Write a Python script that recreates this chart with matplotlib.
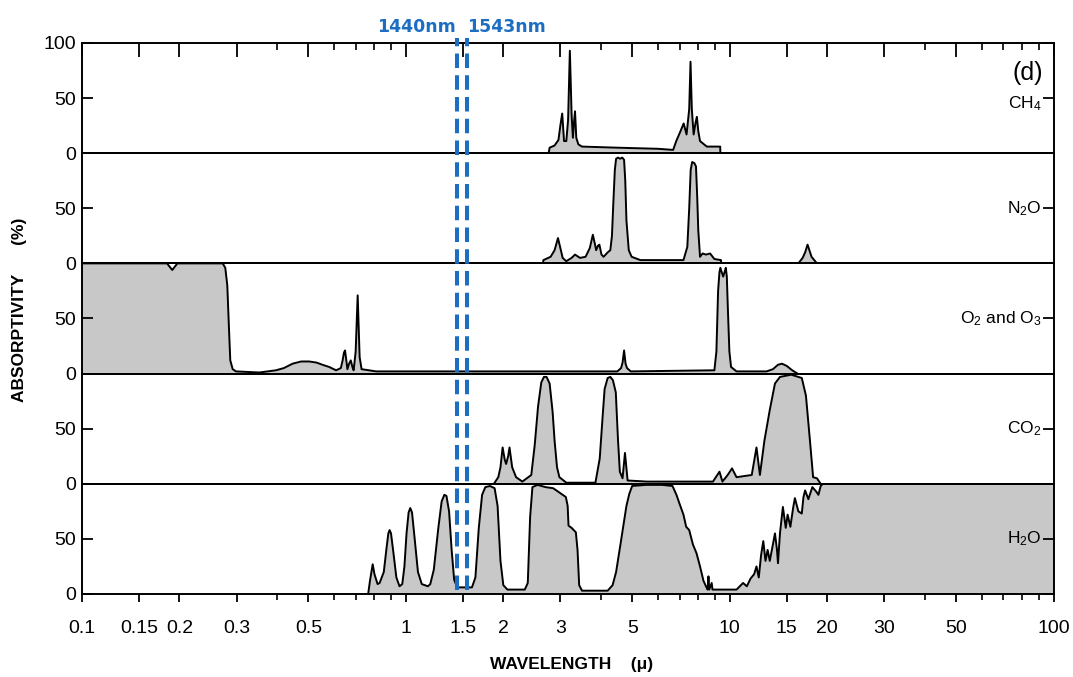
import matplotlib
matplotlib.use('Agg')
import matplotlib.pyplot as plt

plt.rcParams['font.family'] = ['Liberation Sans', 'DejaVu Sans']
plt.rcParams['mathtext.fontset'] = 'custom'
plt.rcParams['mathtext.rm'] = 'Liberation Sans'
plt.rcParams['mathtext.it'] = 'Liberation Sans:italic'
plt.rcParams['mathtext.bf'] = 'Liberation Sans:bold'

# ---------------- data (wavelength in micron, absorptivity in %) ----------------
ch4_wl = [2.76, 2.78, 2.88, 2.96, 3.00, 3.04, 3.08, 3.13, 3.17, 3.21, 3.25, 3.28, 3.31,
          3.33, 3.36, 3.41, 3.5, 4.5, 6.0, 6.69, 6.84, 7.05, 7.21, 7.36, 7.50, 7.57,
          7.64, 7.74, 7.85, 7.92, 8.0, 8.1, 8.5, 9.35, 9.36]
ch4_ab = [0, 5, 7, 12, 25, 36, 11, 11, 30, 93, 35, 14, 30,
          38, 14, 8, 6, 5, 4, 3, 11, 20, 27, 17, 40, 83,
          40, 17, 28, 33, 20, 11, 6, 6, 0]

n2o_wl = [2.65, 2.66, 2.80, 2.88, 2.95, 3.0, 3.05, 3.13, 3.25, 3.33, 3.45, 3.59, 3.70, 3.78,
          3.84, 3.87, 3.92, 3.96, 4.02, 4.08, 4.20, 4.28, 4.33, 4.37, 4.42, 4.46, 4.52, 4.59,
          4.66, 4.72, 4.76, 4.80, 4.88, 4.98, 5.3, 7.2, 7.4, 7.5, 7.58, 7.66, 7.78, 7.87,
          7.94, 8.0, 8.1, 8.25, 8.45, 8.7, 8.97, 9.4, 9.42,
          16.3, 16.8, 17.1, 17.4, 17.9, 18.6]
n2o_ab = [0, 3, 6, 12, 23, 14, 5, 2, 5, 8, 5, 6, 14, 26,
          17, 12, 16, 17, 8, 6, 10, 12, 25, 53, 85, 95, 96, 95,
          96, 94, 75, 39, 12, 6, 3, 3, 15, 50, 85, 92, 91, 88,
          60, 30, 6, 9, 8, 9, 4, 3, 0,
          0, 5, 10, 17, 6, 0]

o3_wl = [0.1, 0.183, 0.19, 0.197, 0.272, 0.277, 0.281, 0.284, 0.287, 0.292, 0.299, 0.353,
         0.397, 0.42, 0.447, 0.475, 0.503, 0.53, 0.553, 0.58, 0.609, 0.63, 0.638, 0.644,
         0.649, 0.655, 0.66, 0.668, 0.676, 0.684, 0.69, 0.70, 0.71, 0.72, 0.73, 0.81,
         4.5, 4.62, 4.67, 4.72, 4.77, 4.82, 4.95, 8.97, 9.1, 9.21, 9.3, 9.36, 9.45, 9.55,
         9.64, 9.73, 9.8, 9.87, 9.98, 10.1, 10.5, 13.0, 13.6, 14.1, 14.5, 15.0, 15.6, 16.2]
o3_ab = [100, 100, 94, 100, 100, 96, 80, 45, 12, 4, 2, 1,
         3, 5, 9, 11, 11, 10, 8, 6, 3, 5, 12, 19,
         21, 12, 4, 9, 12, 6, 3, 20, 71, 15, 4, 2,
         2, 5, 10, 21, 9, 5, 2, 3, 20, 75, 92, 96, 92, 88,
         92, 96, 88, 60, 20, 6, 2, 2, 4, 8, 9, 7, 3, 0]

co2_wl = [1.87, 1.93, 1.96, 1.99, 2.02, 2.04, 2.07, 2.09, 2.13, 2.19, 2.29, 2.44, 2.50,
          2.56, 2.62, 2.67, 2.72, 2.78, 2.84, 2.88, 2.93, 2.98, 3.13, 3.85, 3.97, 4.05,
          4.11, 4.2, 4.28, 4.36, 4.45, 4.52, 4.58, 4.67, 4.75, 4.84, 5.56, 8.88,
          9.3, 9.5, 9.86, 10.17, 10.5, 11.7, 12.1, 12.4, 12.8, 13.3, 13.8, 14.3, 15.5,
          16.7, 17.2, 17.7, 18.1, 18.6, 19.1]
co2_ab = [0, 6, 15, 33, 22, 18, 25, 33, 15, 6, 2, 8, 35,
          70, 92, 97, 97, 91, 65, 39, 15, 6, 1, 1, 23, 60,
          86, 96, 97, 94, 83, 40, 11, 5, 28, 3, 2, 2,
          11, 2, 8, 14, 6, 8, 33, 8, 39, 67, 91, 97, 99,
          96, 80, 39, 6, 5, 0]

h2o_wl = [0.765, 0.775, 0.79, 0.80, 0.818, 0.83, 0.855, 0.872, 0.883, 0.891, 0.90, 0.915,
          0.935, 0.956, 0.975, 0.99, 1.005, 1.02, 1.032, 1.045, 1.065, 1.09, 1.12, 1.17,
          1.19, 1.22, 1.26, 1.29, 1.315, 1.335, 1.36, 1.385, 1.41, 1.44,
          1.60, 1.64, 1.68, 1.72, 1.76, 1.82, 1.88, 1.92, 1.96, 2.00, 2.06, 2.33,
          2.38, 2.42, 2.46, 2.55, 2.7, 2.85, 2.95, 3.05, 3.12, 3.16, 3.18, 3.25, 3.35,
          3.39, 3.43, 3.5, 4.2, 4.35, 4.46, 4.6, 4.8, 4.9, 5.0, 5.5, 6.2, 6.66, 6.85,
          7.0, 7.2, 7.34, 7.5, 7.7, 7.9, 8.1, 8.3, 8.45, 8.55, 8.6, 8.65, 8.8, 8.85,
          9.5, 10.5, 11.0, 11.3, 11.6, 11.9, 12.1, 12.3, 12.5, 12.7, 12.9, 13.1, 13.3,
          13.6, 13.8, 14.0, 14.1, 14.3, 14.6, 14.9, 15.1, 15.4, 15.7, 15.9, 16.3, 16.7,
          16.9, 17.1, 17.5, 18.0, 18.5, 18.8, 19.1, 19.4, 100]
h2o_ab = [0, 12, 27, 18, 9, 10, 20, 42, 55, 58, 55, 38,
          15, 7, 9, 25, 55, 74, 78, 74, 50, 20, 9, 7,
          9, 22, 60, 84, 90, 89, 75, 40, 13, 6,
          6, 15, 60, 90, 97, 98, 96, 80, 30, 8, 4, 4,
          10, 70, 97, 99, 97, 96, 93, 90, 88, 80, 62, 60, 56,
          40, 8, 3, 3, 8, 20, 45, 80, 91, 98, 99, 99, 98, 90,
          82, 72, 61, 58, 45, 37, 25, 12, 7, 4, 16, 4, 10, 4,
          4, 4, 10, 7, 14, 18, 25, 15, 35, 48, 30, 40, 30,
          45, 55, 40, 28, 55, 79, 60, 72, 61, 78, 87, 75, 73,
          88, 94, 86, 97, 93, 90, 98, 100, 100]

gas_labels = ['CH$_4$', 'N$_2$O', 'O$_2$ and O$_3$', 'CO$_2$', 'H$_2$O']
gas_wl = [ch4_wl, n2o_wl, o3_wl, co2_wl, h2o_wl]
gas_ab = [ch4_ab, n2o_ab, o3_ab, co2_ab, h2o_ab]

major_ticks = [0.1, 0.15, 0.2, 0.3, 0.5, 1, 1.5, 2, 3, 5, 10, 15, 20, 30, 50, 100]
major_labels = ['0.1', '0.15', '0.2', '0.3', '0.5', '1', '1.5', '2', '3', '5',
                '10', '15', '20', '30', '50', '100']
minor_ticks = [0.4, 0.6, 0.7, 0.8, 0.9, 4, 6, 7, 8, 9, 40, 60, 70, 80, 90]

marker_wl = [1.44, 1.543]
marker_labels = ['1440nm', '1543nm']

# ---------------- layout ----------------
W, H = 1073, 677
fig = plt.figure(figsize=(W / 100, H / 100), dpi=100)
left_px, right_px, top_px, bot_px = 82, 1053.5, 43, 594
ph = (bot_px - top_px) / 5
fill_c = '#c8c8c8'
blue = '#1b6ec2'

axes = []
for i in range(5):
    top = top_px + i * ph
    ax = fig.add_axes([left_px / W, 1 - (top + ph) / H, (right_px - left_px) / W, ph / H])
    ax.set_xscale('log')
    ax.set_xlim(0.1, 100)
    ax.set_ylim(0, 100)
    ax.fill_between(gas_wl[i], 0, gas_ab[i], color=fill_c, lw=0, zorder=1)
    ax.plot(gas_wl[i], gas_ab[i], color='black', lw=1.4, zorder=2,
            solid_joinstyle='round')
    for s in ax.spines.values():
        s.set_linewidth(1.4)
        s.set_zorder(3)
    ax.set_yticks([0, 50, 100] if i == 0 else [0, 50])
    ax.tick_params(axis='y', which='major', left=True, right=True, direction='in',
                   length=8, width=1.3, labelsize=14, pad=4)
    ax.set_xticks(major_ticks)
    ax.set_xticks(minor_ticks, minor=True)
    if i == 4:
        ax.set_xticklabels(major_labels)
        ax.tick_params(axis='x', which='major', direction='out', length=6, width=1.3,
                       labelsize=14, pad=13, top=False)
        ax.tick_params(axis='x', which='minor', direction='out', length=4, width=1.2,
                       top=False)
    elif i == 0:
        ax.tick_params(axis='x', which='major', direction='in', bottom=False, top=True,
                       labelbottom=False, length=10, width=1.3)
        ax.tick_params(axis='x', which='minor', direction='in', bottom=False, top=True,
                       length=5, width=1.2)
    else:
        ax.tick_params(axis='x', which='both', bottom=False, top=False, labelbottom=False)
    ax.xaxis.set_minor_formatter(plt.NullFormatter())
    ax.text(0.988, 45 if i == 0 else 50, gas_labels[i], transform=ax.get_yaxis_transform(),
            ha='right', va='center', fontsize=12.5, zorder=4)
    ax.patch.set_alpha(0)
    axes.append(ax)

axes[0].text(0.989, 73, '(d)', transform=axes[0].get_yaxis_transform(),
             ha='right', va='center', fontsize=18)

# overlay for the dashed marker lines
ov_top, ov_bot = 38, 590
ov = fig.add_axes([left_px / W, 1 - ov_bot / H, (right_px - left_px) / W,
                   (ov_bot - ov_top) / H])
ov.set_xscale('log')
ov.set_xlim(0.1, 100)
ov.set_ylim(0, 1)
ov.axis('off')
ov.patch.set_alpha(0)
for wl in marker_wl:
    ov.plot([wl, wl], [0, 1], color=blue, lw=2.9, dashes=(3.6, 1.8),
            dash_capstyle='butt', zorder=10)
ov.text(marker_wl[0] * 0.993, 1.02, marker_labels[0], ha='right', va='center', color=blue,
        fontsize=12.5, fontweight='bold', family='DejaVu Sans', clip_on=False)
ov.text(marker_wl[1], 1.02, marker_labels[1], ha='left', va='center', color=blue,
        fontsize=12.5, fontweight='bold', family='DejaVu Sans', clip_on=False)

fig.text(572 / W, 1 - 665 / H, 'WAVELENGTH    (μ)', ha='center', va='center',
         fontsize=12.5, fontweight='bold')
fig.text(20 / W, 1 - 310 / H, 'ABSORPTIVITY      (%)', rotation=90, ha='center',
         va='center', fontsize=12.5, fontweight='bold')

fig.savefig('out.png', dpi=100)
